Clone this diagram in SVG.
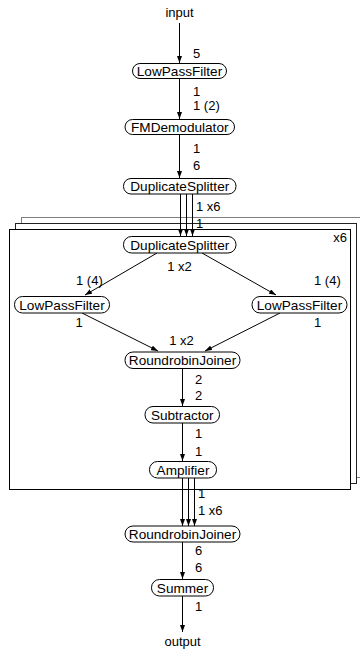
<svg xmlns="http://www.w3.org/2000/svg" width="360" height="649" viewBox="0 0 360 649">
<style>
text{font-family:"Liberation Sans",Arial,sans-serif;font-size:13px;fill:#000}
.n rect{fill:#fff;stroke:#000;stroke-width:1}
.n text{text-anchor:middle;font-size:13.6px}
.e line{stroke:#000;stroke-width:1;marker-end:url(#ah)}
.lbl{text-anchor:start}
.c{text-anchor:middle}
.fr{fill:#fff;stroke-width:1}
</style>
<defs>
<marker id="ah" viewBox="0 0 7 5" refX="7" refY="2.5" markerWidth="7" markerHeight="5" markerUnits="userSpaceOnUse" orient="auto">
<path d="M0,0 L7,2.5 L0,5 Z" fill="#000"/>
</marker>
</defs>
<rect width="360" height="649" fill="#fff"/>
<g id="frames">
<rect class="fr" x="21.5" y="217.5" width="341" height="260" stroke="#808080"/>
<rect class="fr" x="15.5" y="223.5" width="341" height="260" stroke="#222"/>
<rect class="fr" x="9.5" y="229.5" width="341" height="260" stroke="#000"/>
<text x="347" y="242" text-anchor="end">x6</text>
</g>
<g id="connectors" class="e">
<line x1="179.5" y1="23" x2="179.5" y2="63"/>
<line x1="179.5" y1="79" x2="179.5" y2="119"/>
<line x1="179.5" y1="135" x2="179.5" y2="178"/>
<line x1="180.5" y1="194" x2="180.5" y2="236"/>
<line x1="186.5" y1="194" x2="186.5" y2="236"/>
<line x1="192.5" y1="194" x2="192.5" y2="236"/>
<line x1="157" y1="253" x2="85" y2="295"/>
<line x1="202" y1="253" x2="276" y2="295"/>
<line x1="82" y1="313" x2="158" y2="351"/>
<line x1="280" y1="313" x2="205" y2="351"/>
<line x1="182.5" y1="369" x2="182.5" y2="406"/>
<line x1="182.5" y1="423" x2="182.5" y2="461"/>
<line x1="182.5" y1="478" x2="182.5" y2="526"/>
<line x1="188.5" y1="478" x2="188.5" y2="526"/>
<line x1="194.5" y1="478" x2="194.5" y2="526"/>
<line x1="182.5" y1="542" x2="182.5" y2="579"/>
<line x1="182.5" y1="596" x2="182.5" y2="632"/>
</g>
<g id="labels">
<text class="c" x="179.5" y="17">input</text>
<text class="lbl" x="193" y="58">5</text>
<text class="lbl" x="193" y="95.5">1</text>
<text class="lbl" x="193" y="110">1 (2)</text>
<text class="lbl" x="193" y="153">1</text>
<text class="lbl" x="193" y="170">6</text>
<text class="lbl" x="196" y="211">1 x6</text>
<text class="lbl" x="196" y="228">1</text>
<text class="c" x="179.5" y="271">1 x2</text>
<text class="lbl" x="76" y="285">1 (4)</text>
<text class="lbl" x="314" y="285">1 (4)</text>
<text class="c" x="79" y="327">1</text>
<text class="c" x="317.5" y="327">1</text>
<text class="c" x="181.5" y="345">1 x2</text>
<text class="lbl" x="195" y="384">2</text>
<text class="lbl" x="195" y="400">2</text>
<text class="lbl" x="195" y="438">1</text>
<text class="lbl" x="195" y="456">1</text>
<text class="lbl" x="198" y="498">1</text>
<text class="lbl" x="198" y="515">1 x6</text>
<text class="lbl" x="195" y="555">6</text>
<text class="lbl" x="195" y="572">6</text>
<text class="lbl" x="195" y="611">1</text>
<text class="c" x="182.5" y="646">output</text>
</g>
<g id="LowPassFilter1" class="n"><rect x="132.5" y="63.5" width="94" height="15" rx="7.5"/><text x="179.5" y="75.8">LowPassFilter</text></g>
<g id="FMDemodulator" class="n"><rect x="125" y="119.5" width="109.5" height="15" rx="7.5"/><text x="179.75" y="131.8">FMDemodulator</text></g>
<g id="DuplicateSplitter1" class="n"><rect x="123.5" y="178.5" width="112.5" height="15.5" rx="7.5"/><text x="179.75" y="191">DuplicateSplitter</text></g>
<g id="DuplicateSplitter2" class="n"><rect x="123.5" y="236.5" width="112.5" height="16.5" rx="8"/><text x="179.75" y="249.5">DuplicateSplitter</text></g>
<g id="LowPassFilter2" class="n"><rect x="14.5" y="296.5" width="95" height="16.5" rx="8"/><text x="62" y="309.5">LowPassFilter</text></g>
<g id="LowPassFilter3" class="n"><rect x="252" y="296.5" width="95" height="16.5" rx="8"/><text x="299.5" y="309.5">LowPassFilter</text></g>
<g id="RoundrobinJoiner1" class="n"><rect x="125" y="352" width="115" height="16.5" rx="8"/><text x="182.5" y="365">RoundrobinJoiner</text></g>
<g id="Subtractor" class="n"><rect x="145" y="406.5" width="74.5" height="16.5" rx="8"/><text x="182.25" y="419.5">Subtractor</text></g>
<g id="Amplifier" class="n"><rect x="149.5" y="461.5" width="67" height="16.5" rx="8"/><text x="183" y="474.5">Amplifier</text></g>
<g id="RoundrobinJoiner2" class="n"><rect x="125" y="526" width="115" height="16" rx="8"/><text x="182.5" y="539">RoundrobinJoiner</text></g>
<g id="Summer" class="n"><rect x="151.5" y="579.5" width="62" height="16.5" rx="8"/><text x="182.5" y="592.5">Summer</text></g>
</svg>
